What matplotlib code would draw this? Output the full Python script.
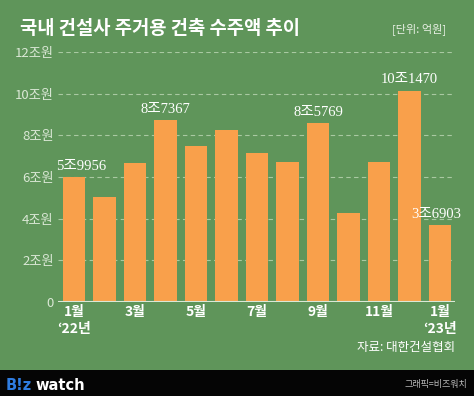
import matplotlib
matplotlib.use('Agg')
import matplotlib.pyplot as plt

BG = '#5f955a'
BAR = '#f9a04b'
FOOT = '#050505'
GRID = '#a9c9a2'
TICK = '#dbe8d6'

plt.rcParams['font.family'] = ['Noto Sans CJK KR', 'DejaVu Sans']

months = ['1월', '2월', '3월', '4월', '5월', '6월', '7월', '8월', '9월', '10월', '11월', '12월', '1월']
values = [5.9956, 5.04, 6.67, 8.7367, 7.50, 8.24, 7.15, 6.71, 8.5769, 4.26, 6.71, 10.147, 3.6903]
labels = {0: '5조9956', 3: '8조7367', 8: '8조5769', 11: '10조1470', 12: '3조6903'}
label_shift = {0: 0.22, 12: -0.12}
yticks = [0, 2, 4, 6, 8, 10, 12]
ytick_labels = ['0', '2조원', '4조원', '6조원', '8조원', '10조원', '12조원']
xtick_pos = [0, 2, 4, 6, 8, 10, 12]
xtick_labels = ['1월\n‘22년', '3월', '5월', '7월', '9월', '11월', '1월\n‘23년']

fig = plt.figure(figsize=(4.74, 3.96), dpi=100)
fig.patch.set_facecolor(BG)

# footer strip
fig.patches.append(plt.Rectangle((0, 0), 1, 26 / 396, transform=fig.transFigure,
                                 facecolor=FOOT, edgecolor='none', zorder=0))

ax = fig.add_axes([58 / 474, 94 / 396, (455 - 58) / 474, 250 / 396])
ax.set_facecolor(BG)
x = list(range(len(values)))
ax.bar(x, values, width=0.73, color=BAR, zorder=3)
ax.set_xlim(-0.525, 12.49)
ax.set_ylim(0, 12)

for y in yticks[1:]:
    ax.axhline(y, color=GRID, linewidth=0.8, linestyle=(0, (4, 3)), zorder=1)
ax.axhline(0, color=TICK, linewidth=1.5, zorder=4)

for s in ax.spines.values():
    s.set_visible(False)
ax.set_yticks(yticks)
ax.set_yticklabels(ytick_labels)
ax.set_xticks(xtick_pos)
ax.set_xticklabels(xtick_labels, linespacing=1.3, fontweight='bold')
ax.tick_params(axis='y', length=0, pad=3, labelsize=9.5, labelcolor=TICK)
ax.tick_params(axis='x', length=0, pad=2, labelsize=10, labelcolor='white')

for i, txt in labels.items():
    ax.text(x[i] + label_shift.get(i, 0), values[i] + 0.2, txt, ha='center', va='bottom',
            fontsize=10.5, color='white', family=['Liberation Serif', 'Noto Sans CJK KR'], zorder=5)

fig.text(20 / 474, 1 - 29 / 396, '국내 건설사 주거용 건축 수주액 추이', ha='left', va='center',
         fontsize=13.5, fontweight='bold', color='white')
fig.text(446 / 474, 1 - 29 / 396, '[단위: 억원]', ha='right', va='center',
         fontsize=8, color='#e8f0e4')
fig.text(455 / 474, 1 - 348 / 396, '자료: 대한건설협회', ha='right', va='center',
         fontsize=9, color='white')

fig.text(6 / 474, 11 / 396, 'B!z', ha='left', va='center', fontsize=10.5,
         fontweight='bold', color='#2f7de1', family=['DejaVu Sans'])
fig.text(35 / 474, 11 / 396, 'watch', ha='left', va='center', fontsize=10.5,
         fontweight='bold', color='white', family=['DejaVu Sans'])
fig.text(467 / 474, 11 / 396, '그래픽=비즈워치', ha='right', va='center',
         fontsize=6.5, color='#bbbbbb')

fig.savefig('out.png', dpi=100, facecolor=fig.get_facecolor())
plt.close()
